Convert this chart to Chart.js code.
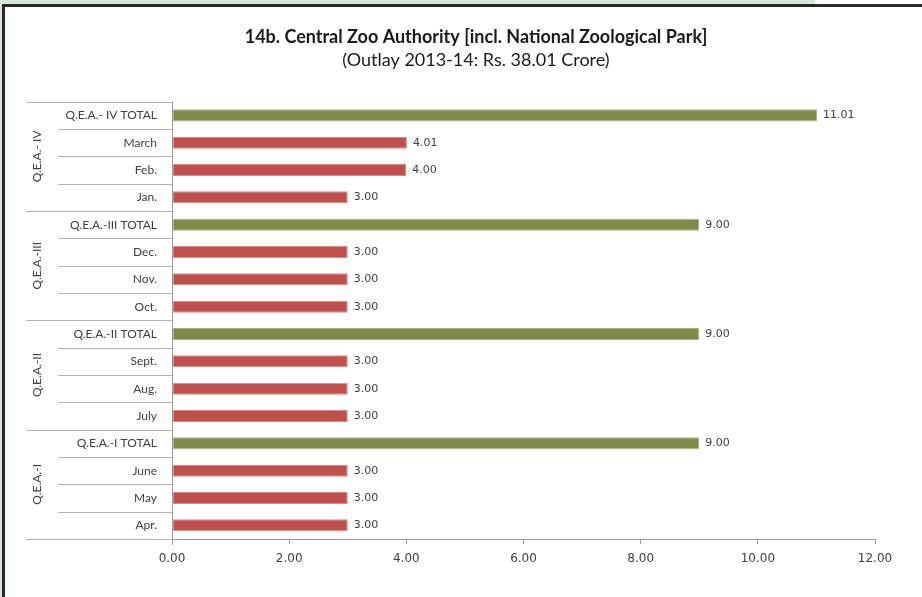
<!DOCTYPE html>
<html>
<head>
<meta charset="utf-8">
<script src="https://cdn.jsdelivr.net/npm/chart.js@4/dist/chart.umd.min.js"></script>
<style>
  html, body { margin: 0; padding: 0; background: #fff; }
  #wrap { width: 922px; height: 597px; position: relative; }
</style>
</head>
<body>
<div id="wrap"><canvas id="zooChart" width="922" height="597"></canvas></div>
<script>
// Datos del gráfico (de arriba hacia abajo)
const categories = ['Q.E.A.- IV TOTAL', 'March', 'Feb.', 'Jan.',
                    'Q.E.A.-III TOTAL', 'Dec.', 'Nov.', 'Oct.',
                    'Q.E.A.-II TOTAL', 'Sept.', 'Aug.', 'July',
                    'Q.E.A.-I TOTAL', 'June', 'May', 'Apr.'];
const outlayValues = [11.01, 4.01, 4.00, 3.00,
                      9.00, 3.00, 3.00, 3.00,
                      9.00, 3.00, 3.00, 3.00,
                      9.00, 3.00, 3.00, 3.00];
const isTotal = [true, false, false, false,
                 true, false, false, false,
                 true, false, false, false,
                 true, false, false, false];
const groupLabels = ['Q.E.A.- IV', 'Q.E.A.-III', 'Q.E.A.-II', 'Q.E.A.-I'];
const groupSize = 4;
const xTicks = [0, 2, 4, 6, 8, 10, 12];

const greenBar = '#7f8b48', greenEdge = '#a9b483';
const redBar = '#c0504d', redEdge = '#d98a88';

// marco de la imagen
const framePlugin = {
    id: 'frame',
    beforeDraw(chart) {
        const c = chart.ctx;
        c.save();
        c.fillStyle = '#fff';
        c.fillRect(0, 0, 922, 597);
        c.fillStyle = '#d6eadc';
        c.fillRect(0, 0, 815, 5);
        c.fillRect(0, 0, 2, 597);
        c.fillStyle = '#2b2b2b';
        c.fillRect(2, 4, 920, 3);
        c.fillRect(2, 4, 3, 593);
        c.restore();
    }
};

// lineas del eje de categorias, etiquetas y grupos
const categoryAxisPlugin = {
    id: 'catAxis',
    afterDraw(chart) {
        const c = chart.ctx;
        const area = chart.chartArea;
        const yScale = chart.scales.y;
        const n = categories.length;
        const step = (area.bottom - area.top) / n;
        c.save();
        c.strokeStyle = '#b3b3b3';
        c.lineWidth = 1;
        for (let i = 0; i <= n; i++) {
            const y = Math.round(area.top + i * step) + 0.5;
            const x0 = (i % groupSize === 0) ? 26 : 58;
            c.beginPath();
            c.moveTo(x0, y);
            c.lineTo(area.left, y);
            c.stroke();
        }
        c.strokeStyle = '#9a9a9a';
        c.beginPath();
        c.moveTo(Math.round(area.left) + 0.5, area.top);
        c.lineTo(Math.round(area.left) + 0.5, area.bottom + 6);
        c.stroke();

        c.fillStyle = '#404040';
        c.font = '12px Lato';
        c.textAlign = 'right';
        c.textBaseline = 'middle';
        categories.forEach(function(lbl, i) {
            c.fillText(lbl, area.left - 15, yScale.getPixelForValue(i));
        });

        c.textAlign = 'center';
        groupLabels.forEach(function(lbl, g) {
            const yc = area.top + (g * groupSize + groupSize / 2) * step;
            c.save();
            c.translate(37, yc);
            c.rotate(-Math.PI / 2);
            c.fillText(lbl, 0, 0);
            c.restore();
        });
        c.restore();
    }
};

// etiquetas de valor
const valueLabelPlugin = {
    id: 'valueLabels',
    afterDatasetsDraw(chart) {
        const c = chart.ctx;
        const meta = chart.getDatasetMeta(0);
        c.save();
        c.fillStyle = '#404040';
        c.font = '11px "DejaVu Sans"';
        c.textAlign = 'left';
        c.textBaseline = 'middle';
        meta.data.forEach(function(bar, i) {
            c.fillText(outlayValues[i].toFixed(2), bar.x + 6, bar.y);
        });
        c.restore();
    }
};

const padLeft = 77;

const ctx = document.getElementById('zooChart').getContext('2d');
const zooChart = new Chart(ctx, {
    type: 'bar',
    data: {
        labels: categories,
        datasets: [{
            data: outlayValues,
            backgroundColor: isTotal.map(t => t ? greenBar : redBar),
            borderColor: isTotal.map(t => t ? greenEdge : redEdge),
            borderWidth: 1,
            borderSkipped: false,
            barPercentage: 0.44,
            categoryPercentage: 1.0
        }]
    },
    options: {
        indexAxis: 'y',
        responsive: false,
        animation: false,
        layout: { padding: { left: padLeft, right: 47, top: 0, bottom: 0 } },
        plugins: {
            legend: { display: false },
            tooltip: { enabled: false },
            title: {
                display: true,
                text: '14b. Central Zoo Authority [incl. National Zoological Park]',
                color: '#1a1a1a',
                font: { family: 'Lato', size: 18, weight: 'bold' },
                padding: { top: 26, bottom: 1 }
            },
            subtitle: {
                display: true,
                text: '(Outlay 2013-14: Rs. 38.01 Crore)',
                color: '#1a1a1a',
                font: { family: 'Lato', size: 18 },
                padding: { top: 1, bottom: 30.5 }
            }
        },
        scales: {
            x: {
                min: 0,
                max: 12,
                afterFit(scale) { scale.height = 58; },
                afterBuildTicks(scale) { scale.ticks = xTicks.map(v => ({ value: v })); },
                grid: { display: true, drawOnChartArea: false, drawTicks: true, tickLength: 5, color: '#9a9a9a' },
                border: { display: true, color: '#9a9a9a' },
                ticks: {
                    padding: 8,
                    color: '#404040',
                    font: { family: 'DejaVu Sans', size: 12 },
                    callback: v => Number(v).toFixed(2)
                }
            },
            y: {
                afterFit(scale) { scale.width = 172 - padLeft; },
                grid: { display: false, drawTicks: false },
                border: { display: false },
                ticks: { display: false }
            }
        }
    },
    plugins: [framePlugin, categoryAxisPlugin, valueLabelPlugin]
});
</script>
</body>
</html>
